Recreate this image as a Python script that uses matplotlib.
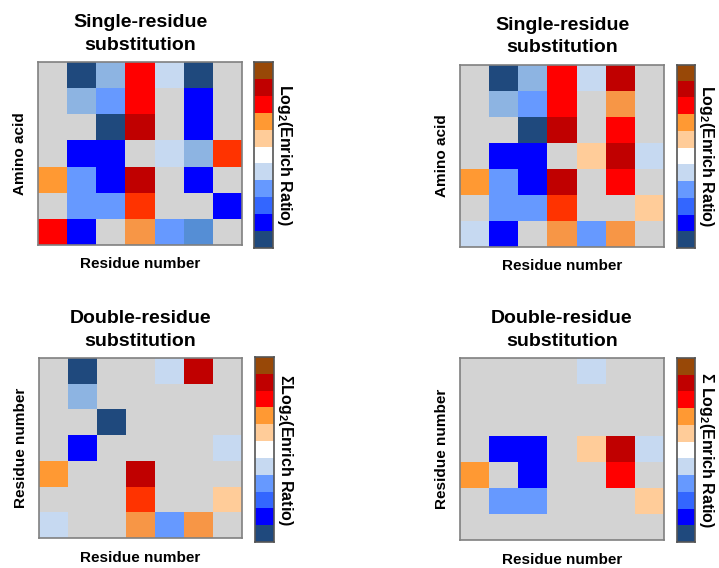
import numpy as np
import matplotlib
matplotlib.use('Agg')
import matplotlib.pyplot as plt
from matplotlib.colors import ListedColormap

plt.rcParams['font.family'] = ['Liberation Sans', 'DejaVu Sans']
plt.rcParams['mathtext.fontset'] = 'custom'
plt.rcParams['mathtext.rm'] = 'Liberation Sans:bold'
plt.rcParams['mathtext.it'] = 'Liberation Sans:bold'

# colour codes used in the cells
palette = [
    '#d3d3d3',  # 0 gray (not observed)
    '#1f497d',  # 1 navy
    '#0000ff',  # 2 blue
    '#3366ff',  # 3 blue 2
    '#6699ff',  # 4 medium blue
    '#c6d9f1',  # 5 light blue
    '#ffffff',  # 6 white
    '#ffcc99',  # 7 light orange
    '#ff9933',  # 8 orange
    '#ff0000',  # 9 red
    '#c00000',  # 10 dark red
    '#984807',  # 11 brown
    '#8db4e2',  # 12 sky blue
    '#558ed5',  # 13 steel blue
    '#f79646',  # 14 orange 2
    '#ff3300',  # 15 red-orange
]

# colorbar levels, top to bottom
cbar_levels = [11, 10, 9, 8, 7, 6, 5, 4, 3, 2, 1]

single_a = [
    [0, 1, 12, 9, 5, 1, 0],
    [0, 12, 4, 9, 0, 2, 0],
    [0, 0, 1, 10, 0, 2, 0],
    [0, 2, 2, 0, 5, 12, 15],
    [8, 4, 2, 10, 0, 2, 0],
    [0, 4, 4, 15, 0, 0, 2],
    [9, 2, 0, 14, 4, 13, 0],
]

single_b = [
    [0, 1, 12, 9, 5, 10, 0],
    [0, 12, 4, 9, 0, 14, 0],
    [0, 0, 1, 10, 0, 9, 0],
    [0, 2, 2, 0, 7, 10, 5],
    [8, 4, 2, 10, 0, 9, 0],
    [0, 4, 4, 15, 0, 0, 7],
    [5, 2, 0, 14, 4, 14, 0],
]

double_a = [
    [0, 1, 0, 0, 5, 10, 0],
    [0, 12, 0, 0, 0, 0, 0],
    [0, 0, 1, 0, 0, 0, 0],
    [0, 2, 0, 0, 0, 0, 5],
    [8, 0, 0, 10, 0, 0, 0],
    [0, 0, 0, 15, 0, 0, 7],
    [5, 0, 0, 14, 4, 14, 0],
]

double_b = [
    [0, 0, 0, 0, 5, 0, 0],
    [0, 0, 0, 0, 0, 0, 0],
    [0, 0, 0, 0, 0, 0, 0],
    [0, 2, 2, 0, 7, 10, 5],
    [8, 0, 2, 0, 0, 9, 0],
    [0, 4, 4, 0, 0, 0, 7],
    [0, 0, 0, 0, 0, 0, 0],
]

W, H = 719, 568
cmap = ListedColormap(palette)


def px_axes(fig, x0, y0, x1, y1):
    """axes from pixel box (top-left origin)"""
    return fig.add_axes([x0 / W, 1 - y1 / H, (x1 - x0) / W, (y1 - y0) / H])


def draw_panel(fig, data, box, cbox, title, ylabel, cblabel):
    ax = px_axes(fig, *box)
    ax.imshow(np.array(data), cmap=cmap, vmin=-0.5, vmax=len(palette) - 0.5,
              aspect='auto', interpolation='nearest')
    ax.set_xticks([])
    ax.set_yticks([])
    for s in ax.spines.values():
        s.set_edgecolor('#808080')
        s.set_linewidth(1.2)
    ax.set_title(title, fontsize=14, fontweight='bold', pad=9, linespacing=1.4)
    ax.set_xlabel('Residue number', fontsize=11, fontweight='bold', labelpad=9)
    ax.set_ylabel(ylabel, fontsize=11, fontweight='bold', labelpad=8)

    cax = px_axes(fig, *cbox)
    cax.imshow(np.array(cbar_levels).reshape(-1, 1), cmap=cmap, vmin=-0.5,
               vmax=len(palette) - 0.5, aspect='auto', interpolation='nearest')
    cax.set_xticks([])
    cax.set_yticks([])
    for s in cax.spines.values():
        s.set_edgecolor('#555555')
        s.set_linewidth(1.2)
    cax.yaxis.set_label_position('right')
    cax.set_ylabel(cblabel, fontsize=11.5, fontweight='bold', rotation=-90,
                   labelpad=15)


fig = plt.figure(figsize=(W / 100, H / 100), dpi=100)

draw_panel(fig, single_a, (38, 62, 242, 245), (254, 62, 273, 248),
           'Single-residue\nsubstitution', 'Amino acid', 'Log$_2$(Enrich Ratio)')
draw_panel(fig, single_b, (460, 65, 664, 247), (677, 65, 695, 248),
           'Single-residue\nsubstitution', 'Amino acid', 'Log$_2$(Enrich Ratio)')
draw_panel(fig, double_a, (39, 358, 242, 538), (255, 357, 274, 542),
           'Double-residue\nsubstitution', 'Residue number', '\u03a3Log$_2$(Enrich Ratio)')
draw_panel(fig, double_b, (460, 358, 664, 540), (677, 358, 695, 542),
           'Double-residue\nsubstitution', 'Residue number', '\u03a3 Log$_2$(Enrich Ratio)')

fig.savefig('out.png', dpi=100)
